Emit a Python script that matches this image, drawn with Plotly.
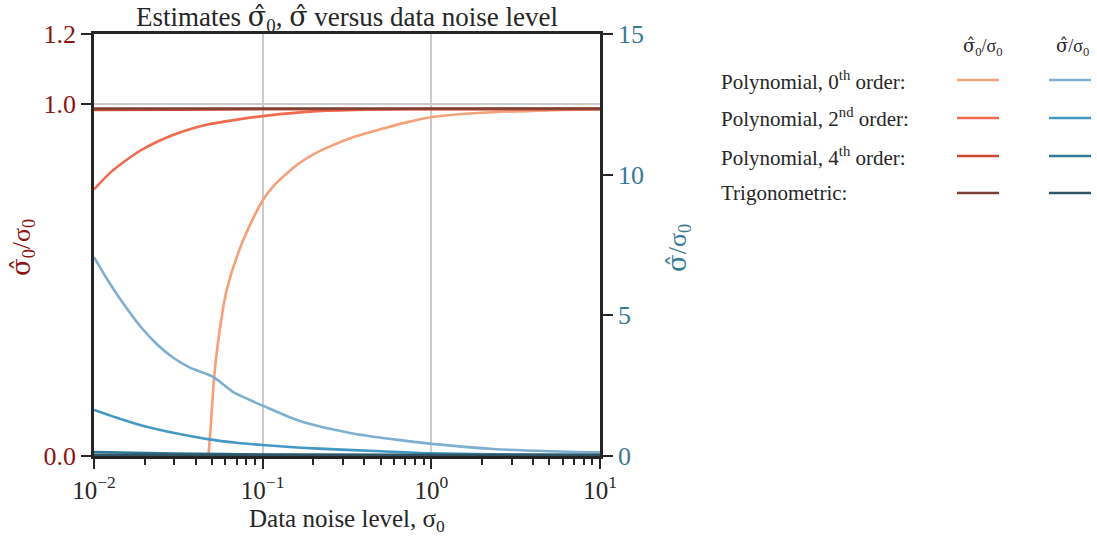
import plotly.graph_objects as go

# ---------------- data ----------------
# left axis: sigma0_hat / sigma0
x_r0 = [0.0477, 0.0492, 0.0514, 0.0546, 0.0612, 0.0767, 0.101, 0.12, 0.14, 0.166, 0.2,
        0.261, 0.35, 0.517, 0.7, 1.02, 2.0, 5.0, 10.0]
y_r0 = [0.0, 0.083, 0.216, 0.33, 0.472, 0.614, 0.730, 0.775, 0.805, 0.834, 0.858,
        0.884, 0.908, 0.931, 0.948, 0.964, 0.976, 0.983, 0.986]

x_r2 = [0.01, 0.01245, 0.015, 0.01875, 0.0235, 0.0294, 0.037, 0.0466, 0.0735, 0.1057, 0.2, 0.4, 1.0, 10.0]
y_r2 = [0.758, 0.805, 0.836, 0.868, 0.893, 0.913, 0.929, 0.942, 0.958, 0.968, 0.980, 0.985, 0.987, 0.987]

x_r4 = [0.01, 0.03, 0.1, 1.0, 10.0]
y_r4 = [0.984, 0.985, 0.986, 0.986, 0.986]

x_rt = [0.01, 0.1, 1.0, 10.0]
y_rt = [0.988, 0.988, 0.988, 0.988]

# right axis: sigma_hat / sigma0
x_b0 = [0.01, 0.01245, 0.01492, 0.01875, 0.02353, 0.02951, 0.03707, 0.0506, 0.067,
        0.0841, 0.101, 0.1665, 0.3296, 0.6, 1.01, 2.33, 5.0, 10.0]
y_b0 = [7.07, 6.12, 5.42, 4.62, 3.98, 3.49, 3.14, 2.82, 2.27,
        1.99, 1.78, 1.24, 0.82, 0.59, 0.43, 0.25, 0.17, 0.13]

x_b2 = [0.01, 0.015, 0.0205, 0.03, 0.0483, 0.07, 0.1, 0.2, 0.5, 1.0, 3.0, 10.0]
y_b2 = [1.64, 1.28, 1.04, 0.82, 0.59, 0.47, 0.39, 0.27, 0.17, 0.10, 0.05, 0.03]

x_b4 = [0.01, 0.03, 0.1, 1.0, 10.0]
y_b4 = [0.14, 0.09, 0.05, 0.02, 0.01]

x_bt = [0.01, 0.1, 1.0, 10.0]
y_bt = [0.04, 0.04, 0.04, 0.04]

labels = ["Polynomial, 0<sup>th</sup> order:", "Polynomial, 2<sup>nd</sup> order:",
          "Polynomial, 4<sup>th</sup> order:", "Trigonometric:"]
red_colors = ["#f4a078", "#ee6b4d", "#c94a36", "#7d4035"]
blue_colors = ["#7eafd0", "#4499c2", "#2c7a98", "#2f5566"]

x_tickvals = [0.01, 0.1, 1, 10]
x_ticktext = ["10<sup>−2</sup>", "10<sup>−1</sup>", "10<sup>0</sup>", "10<sup>1</sup>"]
y_tickvals = [0.0, 1.0, 1.2]
y_ticktext = ["0.0", "1.0", "1.2"]
y2_tickvals = [0, 5, 10, 15]

# ---------------- figure ----------------
W, H = 1097, 536
L, R, T, B = 94, 600, 34, 456
FONT = "'Liberation Serif', 'Times New Roman', Times, serif"
DARK = "#262626"
RED_TXT = "#8c1414"
BLUE_TXT = "#3a7a93"
SIGH = "<span style=\"font-family:'DejaVu Serif'\">σ\u0302</span>"
SIG0H = SIGH + "<sub>0</sub>"

def px(xp):
    return (xp - L) / (R - L)

def py(yp):
    return (B - yp) / (B - T)

fig = go.Figure()
reds = [(x_r0, y_r0), (x_r2, y_r2), (x_r4, y_r4), (x_rt, y_rt)]
blues = [(x_b0, y_b0), (x_b2, y_b2), (x_b4, y_b4), (x_bt, y_bt)]
for (xs, ys), c, n in zip(reds, red_colors, labels):
    fig.add_trace(go.Scatter(x=xs, y=ys, mode="lines",
                             line=dict(color=c, width=2.6, shape="spline", smoothing=0.8),
                             name=n, showlegend=False, yaxis="y"))
for (xs, ys), c, n in zip(blues, blue_colors, labels):
    fig.add_trace(go.Scatter(x=xs, y=ys, mode="lines",
                             line=dict(color=c, width=2.6, shape="spline", smoothing=0.8),
                             name=n, showlegend=False, yaxis="y2"))

minor_vals = [m * 10 ** e for e in (-2, -1, 0) for m in range(2, 10)]

fig.update_layout(
    width=W, height=H,
    margin=dict(l=L, r=W - R, t=T, b=H - B, autoexpand=False),
    paper_bgcolor="white", plot_bgcolor="white",
    font=dict(family=FONT, size=24, color=DARK),
    title=dict(text=f"Estimates {SIG0H}, {SIGH} versus data noise level",
               xref="paper", x=0.5, xanchor="center", y=1 - 17 / H, yanchor="middle",
               font=dict(family=FONT, size=27, color=DARK)),
    xaxis=dict(type="log", range=[-2, 1], tickmode="array", tickvals=x_tickvals,
               ticktext=x_ticktext, ticks="outside", ticklen=10, tickwidth=2, tickcolor=DARK,
               showline=True, linecolor=DARK, linewidth=2.5, mirror=True,
               showgrid=True, gridcolor="#cccccc", gridwidth=1.5, zeroline=False,
               tickfont=dict(family=FONT, size=25, color=DARK),
               minor=dict(tickmode="array", tickvals=minor_vals, ticks="outside", ticklen=6,
                          tickwidth=1.5, tickcolor=DARK, showgrid=False)),
    yaxis=dict(range=[0, 1.2], tickmode="array", tickvals=y_tickvals, ticktext=y_ticktext,
               ticks="outside", ticklen=10, tickwidth=2, tickcolor=DARK,
               showline=True, linecolor=DARK, linewidth=2.5,
               showgrid=True, gridcolor="#cccccc", gridwidth=1.5, zeroline=False,
               tickfont=dict(family=FONT, size=26, color=RED_TXT)),
    yaxis2=dict(range=[0, 15], tickmode="array", tickvals=y2_tickvals, overlaying="y", side="right",
                ticks="outside", ticklen=10, tickwidth=2, tickcolor=DARK,
                showline=True, linecolor=DARK, linewidth=2.5,
                showgrid=False, zeroline=False,
                tickfont=dict(family=FONT, size=26, color=BLUE_TXT)),
)

annotations = [
    dict(text="Data noise level, σ<sub>0</sub>", x=px(347), y=py(520), xref="paper", yref="paper",
         showarrow=False, xanchor="center", yanchor="middle",
         font=dict(family=FONT, size=25, color=DARK)),
    dict(text=f"{SIG0H}/σ<sub>0</sub>", x=px(22), y=py(248), xref="paper", yref="paper",
         showarrow=False, textangle=-90, xanchor="center", yanchor="middle",
         font=dict(family=FONT, size=26, color=RED_TXT)),
    dict(text=f"{SIGH}/σ<sub>0</sub>", x=px(678), y=py(248), xref="paper", yref="paper",
         showarrow=False, textangle=-90, xanchor="center", yanchor="middle",
         font=dict(family=FONT, size=26, color=BLUE_TXT)),
    dict(text=f"{SIG0H}/σ<sub>0</sub>", x=px(983), y=py(47), xref="paper", yref="paper",
         showarrow=False, xanchor="center", yanchor="middle",
         font=dict(family=FONT, size=18, color=DARK)),
    dict(text=f"{SIGH}/σ<sub>0</sub>", x=px(1072), y=py(47), xref="paper", yref="paper",
         showarrow=False, xanchor="center", yanchor="middle",
         font=dict(family=FONT, size=18, color=DARK)),
]
row_y = [80, 118, 156, 193]
shapes = []
for lab, ry, rc, bc in zip(labels, row_y, red_colors, blue_colors):
    annotations.append(dict(text=lab, x=px(719), y=py(ry), xref="paper", yref="paper",
                            showarrow=False, xanchor="left", yanchor="middle",
                            font=dict(family=FONT, size=21, color=DARK)))
    shapes.append(dict(type="line", xref="paper", yref="paper", x0=px(957), x1=px(999),
                       y0=py(ry), y1=py(ry), line=dict(color=rc, width=2.6)))
    shapes.append(dict(type="line", xref="paper", yref="paper", x0=px(1049), x1=px(1091),
                       y0=py(ry), y1=py(ry), line=dict(color=bc, width=2.6)))
fig.update_layout(annotations=annotations, shapes=shapes)

fig.write_html("out.html")
